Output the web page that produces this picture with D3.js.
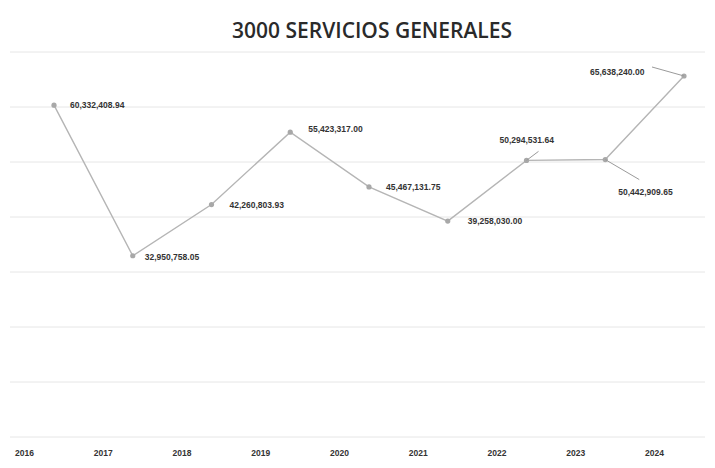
<!DOCTYPE html>
<html>
<head>
<meta charset="utf-8">
<script src="https://cdn.jsdelivr.net/npm/d3@7"></script>
<style>
  html, body { margin: 0; padding: 0; background: #fff; }
  svg { display: block; }
</style>
</head>
<body>
<svg id="chart" width="715" height="468"></svg>
<script>
const years = ["2016", "2017", "2018", "2019", "2020", "2021", "2022", "2023", "2024"];
const values = [60332408.94, 32950758.05, 42260803.93, 55423317.00, 45467131.75, 39258030.00, 50294531.64, 50442909.65, 65638240.00];
const valueLabels = ["60,332,408.94", "32,950,758.05", "42,260,803.93", "55,423,317.00", "45,467,131.75", "39,258,030.00", "50,294,531.64", "50,442,909.65", "65,638,240.00"];
const gridTicks = [0, 10000000, 20000000, 30000000, 40000000, 50000000, 60000000, 70000000];

// label layout (dx, dy from point; leader = draw connector)
const labelLayout = [
  {dx: 16, dy: 3, leader: false},
  {dx: 12, dy: 4, leader: false},
  {dx: 18, dy: 3, leader: false},
  {dx: 18, dy: 0, leader: false},
  {dx: 17, dy: 3, leader: false},
  {dx: 20, dy: 3, leader: false},
  {dx: -27, dy: -17, leader: true, lx: 12, ly: -9},
  {dx: 13, dy: 35, leader: true, lx: 34, ly: 20},
  {dx: -94, dy: -1, leader: true, lx: -32, ly: -9}
];

const svg = d3.select("#chart");
const x = d3.scalePoint().domain(years).range([54, 684]);
const y = d3.scaleLinear().domain([0, 70000000]).range([437, 52]);

// title
svg.append("text")
  .attr("x", 372).attr("y", 38)
  .attr("text-anchor", "middle")
  .attr("font-family", "'Open Sans', 'Liberation Sans', sans-serif")
  .attr("font-size", 21).attr("font-weight", 600)
  .attr("fill", "#2a2a2a")
  .text("3000 SERVICIOS GENERALES");

// gridlines
svg.append("g").selectAll("line").data(gridTicks).join("line")
  .attr("x1", 10).attr("x2", 705)
  .attr("y1", d => y(d)).attr("y2", d => y(d))
  .attr("stroke", "#e6e6e6").attr("stroke-width", 1);

// x axis labels
const xAxis = d3.axisBottom(x).tickSize(0).tickPadding(0);
const gx = svg.append("g").attr("transform", "translate(-30,450)").call(xAxis);
gx.select(".domain").remove();
gx.selectAll("text")
  .attr("font-family", "'Liberation Sans', Arial, sans-serif")
  .attr("font-size", 8.5).attr("font-weight", "bold")
  .attr("fill", "#333");

const data = years.map((yr, i) => ({yr, v: values[i], label: valueLabels[i], l: labelLayout[i]}));

// line
svg.append("path").datum(data)
  .attr("fill", "none").attr("stroke", "#b5b5b5").attr("stroke-width", 1.4)
  .attr("d", d3.line().x(d => x(d.yr)).y(d => y(d.v)));

// markers
svg.append("g").selectAll("circle").data(data).join("circle")
  .attr("cx", d => x(d.yr)).attr("cy", d => y(d.v)).attr("r", 2.6)
  .attr("fill", "#a8a8a8");

// leader lines
svg.append("g").selectAll("line").data(data.filter(d => d.l.leader)).join("line")
  .attr("x1", d => x(d.yr)).attr("y1", d => y(d.v))
  .attr("x2", d => x(d.yr) + d.l.lx).attr("y2", d => y(d.v) + d.l.ly)
  .attr("stroke", "#9a9a9a").attr("stroke-width", 1);

// value labels
svg.append("g").selectAll("text").data(data).join("text")
  .attr("x", d => x(d.yr) + d.l.dx).attr("y", d => y(d.v) + d.l.dy)
  .attr("font-family", "'Liberation Sans', Arial, sans-serif")
  .attr("font-size", 8.5).attr("font-weight", "bold")
  .attr("fill", "#333")
  .text(d => d.label);
</script>
</body>
</html>
